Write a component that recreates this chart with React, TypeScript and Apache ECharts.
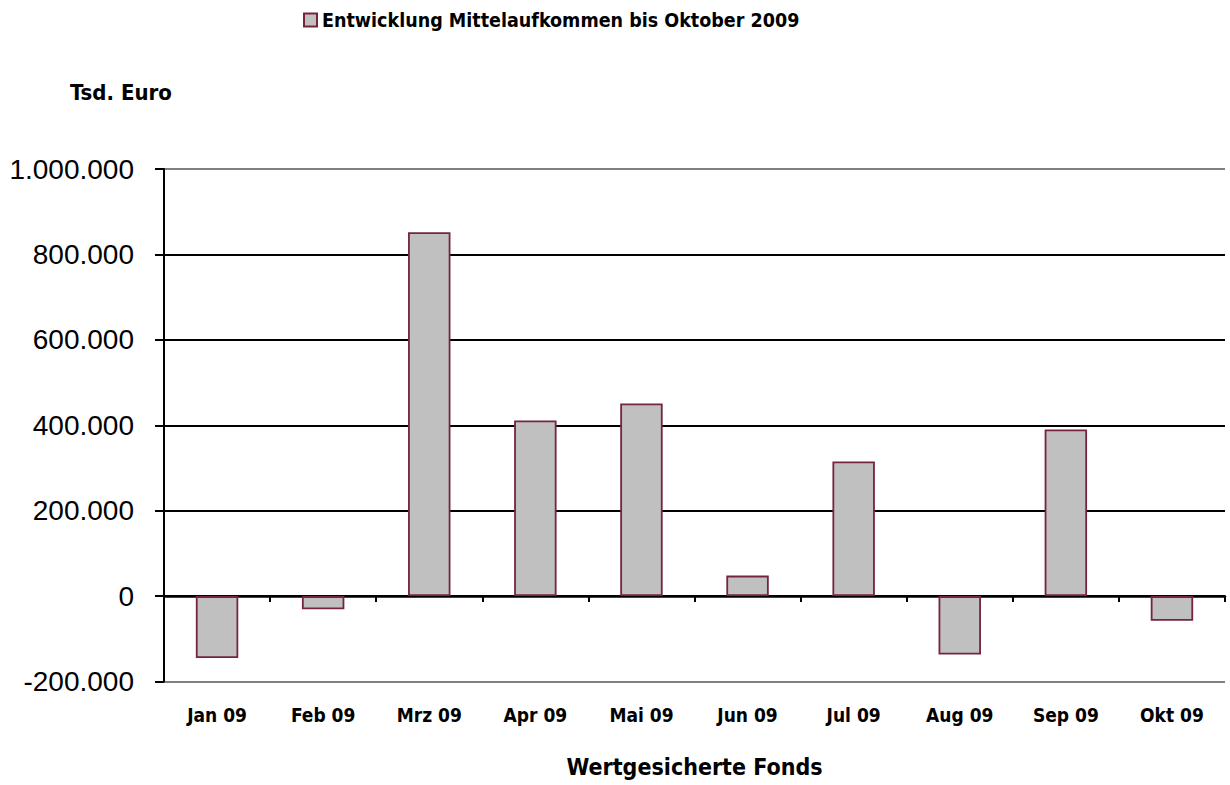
import React, { useEffect, useRef } from "react";
import * as echarts from "echarts";

const categories = ["Jan 09", "Feb 09", "Mrz 09", "Apr 09", "Mai 09", "Jun 09", "Jul 09", "Aug 09", "Sep 09", "Okt 09"];
const values = [-145000, -31000, 852000, 411000, 451000, 48000, 315000, -137000, 390000, -58000];
const seriesName = "Entwicklung Mittelaufkommen bis Oktober 2009";
const yTicks = { min: -200000, max: 1000000, interval: 200000 };
const unitLabel = "Tsd. Euro";
const xTitle = "Wertgesicherte Fonds";

const boldFont = "'DejaVu Sans Condensed', 'DejaVu Sans', sans-serif";
const numFont = "'Liberation Sans', Arial, sans-serif";

function fmt(v: number): string {
  const neg = v < 0;
  const s = Math.abs(v).toString().replace(/\B(?=(\d{3})+(?!\d))/g, ".");
  return (neg ? "-" : "") + s;
}

export default function App() {
  const ref = useRef<HTMLDivElement>(null);
  useEffect(() => {
    if (!ref.current) return;
    const chart = echarts.init(ref.current, null, { renderer: "svg" });
    const gridColors = ["#808080", "#000000", "#000000", "#000000", "#000000", "#000000", "#808080"];
    chart.setOption({
      animation: false,
      backgroundColor: "#ffffff",
      legend: {
        left: 303,
        top: 10,
        padding: 0,
        itemWidth: 13,
        itemHeight: 13,
        textStyle: { fontFamily: boldFont, fontWeight: "bold", fontSize: 19.5, color: "#000" },
        data: [{ name: seriesName, icon: "rect" }],
      },
      grid: { left: 164, right: 5, top: 169, bottom: 103.5, containLabel: false },
      xAxis: [
        {
          type: "category",
          data: categories,
          position: "bottom",
          axisLine: { show: false, onZero: false },
          axisTick: { show: false },
          axisLabel: {
            margin: 24,
            fontFamily: boldFont,
            fontWeight: "bold",
            fontSize: 19,
            color: "#000",
          },
          splitLine: { show: false },
        },
        {
          type: "category",
          data: categories,
          position: "top",
          axisLine: { show: true, onZero: true, lineStyle: { color: "#000", width: 2.5 } },
          axisTick: { show: true, inside: true, length: 6, lineStyle: { color: "#000", width: 2 } },
          axisLabel: { show: false },
          splitLine: { show: false },
        },
      ],
      yAxis: {
        type: "value",
        min: yTicks.min,
        max: yTicks.max,
        interval: yTicks.interval,
        axisLine: { show: true, lineStyle: { color: "#000", width: 2 } },
        axisTick: { show: true, length: 9, lineStyle: { color: "#000", width: 2 } },
        axisLabel: {
          margin: 30,
          fontFamily: numFont,
          fontSize: 28,
          color: "#000",
          formatter: (v: number) => fmt(v),
        },
        splitLine: { show: true, lineStyle: { color: gridColors, width: 2 } },
      },
      graphic: [
        {
          type: "text",
          left: 70,
          top: 81,
          style: { text: unitLabel, font: `bold 22px ${boldFont}`, fill: "#000" },
        },
        {
          type: "text",
          x: 694.5,
          y: 767,
          style: {
            text: xTitle,
            font: `bold 23px ${boldFont}`,
            fill: "#000",
            textAlign: "center",
            textVerticalAlign: "middle",
          },
        },
      ],
      series: [
        {
          name: seriesName,
          type: "bar",
          xAxisIndex: 0,
          data: values,
          barWidth: "40%",
          itemStyle: { color: "#C0C0C0", borderColor: "#76243A", borderWidth: 1.8 },
        },
      ],
    });
    return () => chart.dispose();
  }, []);
  return (
    <div
      ref={ref}
      style={{ position: "absolute", left: 0, top: 0, width: 1230, height: 785 }}
    />
  );
}
